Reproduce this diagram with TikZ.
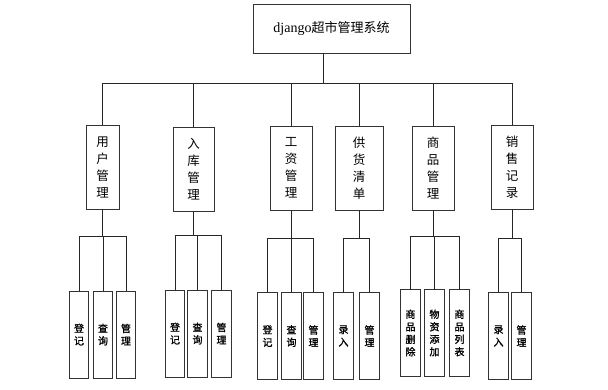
\documentclass[tikz,border=0pt]{standalone}
\usepackage{fontspec}
\setmainfont{Noto Sans CJK SC}
\newfontfamily\leaffont[FakeBold=1.2]{Noto Sans CJK SC}
\newfontfamily\latinfont{Liberation Serif}
\begin{document}
\begin{tikzpicture}[x=1pt,y=-1pt,
  box/.style={draw=black!80,line width=1pt,inner sep=0pt,outer sep=0pt,align=center},
  topbox/.style={box,minimum width=157pt,minimum height=49pt,font=\fontsize{13}{15}\selectfont},
  midbox/.style={box,minimum height=84pt,font=\fontsize{12.5}{17}\selectfont},
  leafbox/.style={box,minimum width=19.5pt,minimum height=87pt,font=\leaffont\fontsize{10}{12.5}\selectfont},
  conn/.style={draw=black!85,line width=1pt}]
\useasboundingbox (0,0) rectangle (608,389);
\node[topbox] (top) at (331.5,28.5) {{\latinfont\fontsize{14}{15}\selectfont django}超市管理系统};
% level 2
\node[midbox,minimum width=33pt] (L1) at (102.5,167) {用\\户\\管\\理};
\node[midbox,minimum width=41pt] (L2) at (193.5,169) {入\\库\\管\\理};
\node[midbox,minimum width=42pt] (L3) at (291,168) {工\\资\\管\\理};
\node[midbox,minimum width=48pt] (L4) at (359,168) {供\\货\\清\\单};
\node[midbox,minimum width=42pt] (L5) at (433,168) {商\\品\\管\\理};
\node[midbox,minimum width=42pt] (L6) at (512,167) {销\\售\\记\\录};
% level 3
\node[leafbox] (A1) at (79,334.5) {登\\记};
\node[leafbox] (A2) at (103,334.5) {查\\询};
\node[leafbox] (A3) at (126,334.5) {管\\理};
\node[leafbox] (B1) at (175,333.5) {登\\记};
\node[leafbox] (B2) at (197.5,333.5) {查\\询};
\node[leafbox] (B3) at (221.5,333.5) {管\\理};
\node[leafbox] (C1) at (267.5,336) {登\\记};
\node[leafbox] (C2) at (291.5,336) {查\\询};
\node[leafbox] (C3) at (313.5,336) {管\\理};
\node[leafbox] (D1) at (343.5,336) {录\\入};
\node[leafbox] (D2) at (369.5,336) {管\\理};
\node[leafbox] (E1) at (410.5,333) {商\\品\\删\\除};
\node[leafbox] (E2) at (434.5,333) {物\\资\\添\\加};
\node[leafbox] (E3) at (459.5,333) {商\\品\\列\\表};
\node[leafbox] (F1) at (498.5,336) {录\\入};
\node[leafbox] (F2) at (521.5,336) {管\\理};
% connectors level 1 -> 2
\coordinate (tdrop) at ([xshift=-8pt]top.south);
\foreach \n in {L1,L2,L3,L4,L5,L6}
  \draw[conn] (tdrop) -- ++(0,30) -| (\n.north);
% connectors level 2 -> 3
\foreach \n in {A1,A2,A3} \draw[conn] (L1.south) -- ++(0,27) -| (\n.north);
\foreach \n in {B1,B2,B3} \draw[conn] (L2.south) -- ++(0,24) -| (\n.north);
\foreach \n in {C1,C2,C3} \draw[conn] (L3.south) -- ++(0,28) -| (\n.north);
\foreach \n in {D1,D2} \draw[conn] (L4.south) -- ++(0,28) -| (\n.north);
\foreach \n in {E1,E2,E3} \draw[conn] (L5.south) -- ++(0,26) -| (\n.north);
\foreach \n in {F1,F2} \draw[conn] (L6.south) -- ++(0,29) -| (\n.north);
\end{tikzpicture}
\end{document}
